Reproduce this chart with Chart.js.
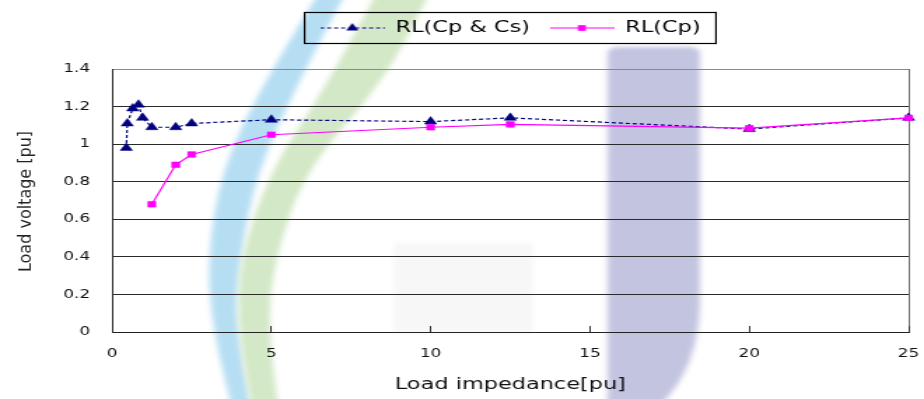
<!DOCTYPE html>
<html>
<head>
<meta charset="utf-8">
<script src="https://cdn.jsdelivr.net/npm/chart.js@4.4.1/dist/chart.umd.min.js"></script>
<style>
  html, body { margin: 0; padding: 0; background: #fff; overflow: hidden; }
  /* the figure is laid out narrow and widened horizontally */
  #wrap { width: 660px; height: 399px; transform: scaleX(1.4); transform-origin: 0 0; }
  canvas { display: block; }
</style>
</head>
<body>
<div id="wrap"><canvas id="chart" width="660" height="399"></canvas></div>
<script>
// ---- data ----
const impedanceCpCs = [0.45, 0.48, 0.65, 0.83, 0.96, 1.25, 2, 2.5, 5, 10, 12.5, 20, 25];
const voltageCpCs   = [0.98, 1.11, 1.19, 1.21, 1.14, 1.09, 1.09, 1.11, 1.13, 1.12, 1.14, 1.08, 1.14];
const impedanceCp   = [1.25, 2, 2.5, 5, 10, 12.5, 20, 25];
const voltageCp     = [0.68, 0.89, 0.945, 1.05, 1.09, 1.105, 1.085, 1.14];
const seriesNames   = ['RL(Cp & Cs)', 'RL(Cp)'];
const xTickValues   = [0, 5, 10, 15, 20, 25];
const yTickValues   = [0, 0.2, 0.4, 0.6, 0.8, 1, 1.2, 1.4];
const xTitle = 'Load impedance[pu]';
const yTitle = 'Load voltage [pu]';

const STRETCH = 1.4;           // horizontal widening applied to the canvas
const NAVY = '#000080';
const MAGENTA = '#ff00ff';

Chart.defaults.font.family = "'DejaVu Sans', sans-serif";
Chart.defaults.color = '#111';

// legend swatch: short line with the series marker in the middle
function legendSwatch(color, dash, shape, r) {
  const c = document.createElement('canvas');
  c.width = 46; c.height = 16;
  const g = c.getContext('2d');
  g.strokeStyle = color; g.lineWidth = 1.2; g.setLineDash(dash);
  g.beginPath(); g.moveTo(0, 8); g.lineTo(46, 8); g.stroke();
  g.setLineDash([]);
  g.fillStyle = color;
  g.beginPath();
  if (shape === 'triangle') {
    g.moveTo(23, 8 - r);
    g.lineTo(23 + r * 0.866, 8 + r / 2);
    g.lineTo(23 - r * 0.866, 8 + r / 2);
    g.closePath();
  } else {
    const s = r * Math.SQRT1_2;
    g.rect(23 - s, 8 - s, 2 * s, 2 * s);
  }
  g.fill();
  return c;
}
const swatches = [legendSwatch(NAVY, [3, 2], 'triangle', 5), legendSwatch(MAGENTA, [], 'rect', 4)];

// smooth outline through a list of points
function smoothTo(g, pts, start) {
  if (start) g.moveTo(pts[0][0], pts[0][1]); else g.lineTo(pts[0][0], pts[0][1]);
  for (let i = 1; i < pts.length - 1; i++) {
    const mx = (pts[i][0] + pts[i + 1][0]) / 2, my = (pts[i][1] + pts[i + 1][1]) / 2;
    g.quadraticCurveTo(pts[i][0], pts[i][1], mx, my);
  }
  const last = pts[pts.length - 1];
  g.lineTo(last[0], last[1]);
}
function band(g, left, right, color) {
  g.beginPath();
  smoothTo(g, left, true);
  smoothTo(g, right.slice().reverse(), false);
  g.closePath();
  g.fillStyle = color;
  g.fill();
}

// faint emblem behind the plot
const emblem = {
  id: 'emblem',
  beforeDraw(chart) {
    const g = chart.ctx;
    g.save();
    g.filter = 'blur(2px)';
    g.fillStyle = 'rgba(0,0,0,0.03)';
    g.fillRect(281, 243, 100, 90);
    band(g,
      [[229, -10], [189, 80], [158, 170], [148, 260], [152, 330], [166, 410]],
      [[248, -10], [214, 80], [184, 170], [171, 260], [168, 330], [180, 410]],
      '#b6def3');
    band(g,
      [[270, -10], [236, 80], [193, 170], [171, 260], [170, 330], [180, 410]],
      [[308, -10], [275, 80], [218, 170], [196, 260], [191, 330], [199, 410]],
      '#d3e8c6');
    g.beginPath();
    g.moveTo(434, 410);
    g.lineTo(434, 54);
    g.quadraticCurveTo(434, 47, 442, 47);
    g.lineTo(492, 47);
    g.quadraticCurveTo(500, 47, 500, 54);
    g.lineTo(500, 300);
    g.quadraticCurveTo(500, 370, 468, 410);
    g.closePath();
    g.fillStyle = '#c3c4e0';
    g.fill();
    g.restore();
  }
};

// vertical axis title, drawn upright against the widening
const yAxisTitle = {
  id: 'yAxisTitle',
  afterDraw(chart) {
    const g = chart.ctx;
    const area = chart.chartArea;
    g.save();
    g.translate(18.6, (area.top + area.bottom) / 2 + 1);
    g.scale(1 / STRETCH, 1);
    g.rotate(-Math.PI / 2);
    g.font = "16px 'DejaVu Sans', sans-serif";
    g.fillStyle = '#222';
    g.textAlign = 'center';
    g.textBaseline = 'middle';
    g.fillText(yTitle, 0, 0);
    g.restore();
  }
};

// frame round the legend
const legendFrame = {
  id: 'legendFrame',
  afterDraw(chart) {
    const hb = chart.legend && chart.legend.legendHitBoxes;
    if (!hb || !hb.length) return;
    const l = Math.min(...hb.map(b => b.left)) - 11;
    const r = Math.max(...hb.map(b => b.left + b.width)) + 11;
    const t = hb[0].top - 7.5;
    const b = hb[0].top + hb[0].height + 7.5;
    const g = chart.ctx;
    g.save();
    g.strokeStyle = '#000';
    g.lineWidth = 1.2;
    g.strokeRect(l, t, r - l, b - t);
    g.restore();
  }
};

new Chart(document.getElementById('chart'), {
  type: 'line',
  data: {
    datasets: [
      {
        label: seriesNames[0],
        data: impedanceCpCs.map((x, i) => ({ x, y: voltageCpCs[i] })),
        borderColor: NAVY,
        backgroundColor: NAVY,
        borderWidth: 1.2,
        borderDash: [3, 2],
        pointStyle: 'triangle',
        pointRadius: 5,
        pointBorderWidth: 0.5,
        tension: 0,
        clip: false,
        order: 1
      },
      {
        label: seriesNames[1],
        data: impedanceCp.map((x, i) => ({ x, y: voltageCp[i] })),
        borderColor: MAGENTA,
        backgroundColor: MAGENTA,
        borderWidth: 1.2,
        pointStyle: 'rect',
        pointRadius: 4,
        pointBorderWidth: 0.5,
        tension: 0,
        clip: false,
        order: 0
      }
    ]
  },
  options: {
    responsive: false,
    animation: false,
    devicePixelRatio: 1,
    layout: { padding: { top: 6, right: 11, bottom: 0, left: 0 } },
    plugins: {
      tooltip: { enabled: false },
      legend: {
        position: 'top',
        fullSize: false,
        labels: {
          usePointStyle: true,
          pointStyleWidth: 46,
          padding: 14,
          color: '#000',
          font: { size: 16 },
          sort: (a, b) => a.datasetIndex - b.datasetIndex,
          generateLabels(chart) {
            const items = Chart.defaults.plugins.legend.labels.generateLabels(chart);
            items.forEach(it => { it.pointStyle = swatches[it.datasetIndex]; });
            return items;
          }
        }
      },
      // empty spacer between legend and plot
      title: { display: true, text: '', weight: 500, font: { size: 10, lineHeight: 1.2 }, padding: { top: 0, bottom: 11 } }
    },
    scales: {
      x: {
        type: 'linear',
        min: 0,
        max: 25,
        afterBuildTicks(scale) { scale.ticks = xTickValues.map(v => ({ value: v })); },
        afterFit(scale) { scale.height = 67; scale.paddingRight = 6; scale.paddingLeft = 6; },
        grid: {
          drawOnChartArea: true,
          drawTicks: true,
          tickLength: -6,
          color: ctx => (ctx.tick && ctx.tick.value === 25 ? '#6a6a6a' : 'rgba(0,0,0,0)'),
          tickColor: '#333',
          lineWidth: 1
        },
        border: { display: true, color: '#222', width: 1 },
        ticks: { padding: 21, color: '#111', font: { size: 12 }, maxRotation: 0, callback: v => String(v) },
        title: { display: true, text: xTitle, color: '#111', font: { size: 16 }, padding: { top: 0, bottom: 4.5 } }
      },
      y: {
        min: 0,
        max: 1.4,
        afterBuildTicks(scale) { scale.ticks = yTickValues.map(v => ({ value: v })); },
        afterFit(scale) { scale.width = 80; },
        grid: {
          drawTicks: false,
          color: ctx => (ctx.tick && ctx.tick.value === 1.4 ? '#8a8a8a' : '#2a2a2a'),
          lineWidth: 1
        },
        border: { display: true, color: '#222', width: 1 },
        ticks: { padding: 15.7, color: '#111', font: { size: 12 }, callback: v => String(v) }
      }
    }
  },
  plugins: [emblem, yAxisTitle, legendFrame]
});
</script>
</body>
</html>
